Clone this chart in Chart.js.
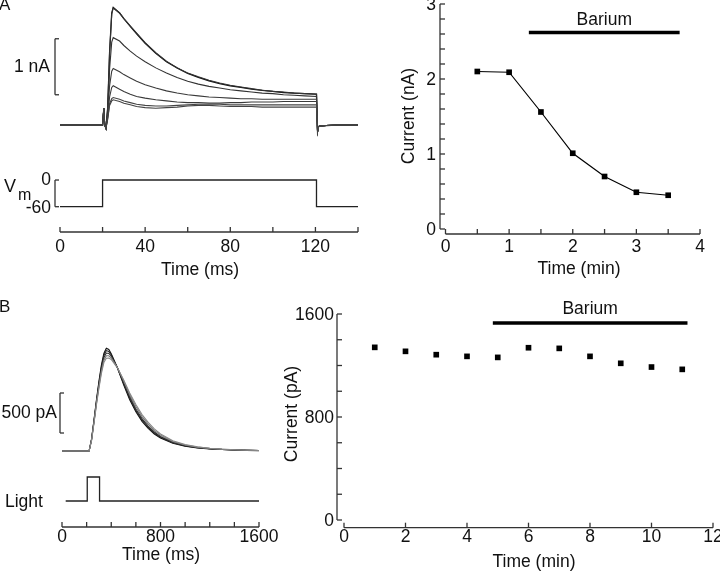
<!DOCTYPE html>
<html>
<head>
<meta charset="utf-8">
<script src="https://cdn.jsdelivr.net/npm/chart.js@4.4.1/dist/chart.umd.min.js"></script>
<style>
  html, body { margin: 0; padding: 0; background: #fff; }
  #wrap { position: relative; width: 720px; height: 572px; }
  #wrap canvas { position: absolute; left: 0; top: 0; }
</style>
</head>
<body>
<div id="wrap">
  <canvas id="aTrace" width="720" height="572"></canvas>
  <canvas id="aVolt" width="720" height="572"></canvas>
  <canvas id="aTime" width="720" height="572"></canvas>
  <canvas id="bTrace" width="720" height="572"></canvas>
  <canvas id="bLight" width="720" height="572"></canvas>
  <canvas id="bTime" width="720" height="572"></canvas>
</div>
<script>
// ---- panel A, left: current traces (nA) vs time (ms)
const tA = [0, 20, 20.6, 21, 21.6, 22.4, 23.3, 24.3, 25, 28, 30, 33, 36, 40, 45, 50, 55, 60, 65, 70, 75, 80, 85, 90, 95, 100, 105, 110, 115, 120.5, 121, 121.5, 122, 125, 130, 140];
const iA1 = [0, 0, 0.3, 0, -0.06, 0.3, 1.3, 2.0, 2.1, 2.0, 1.9, 1.76, 1.63, 1.46, 1.28, 1.13, 1.02, 0.92, 0.85, 0.79, 0.74, 0.70, 0.67, 0.64, 0.62, 0.60, 0.58, 0.57, 0.56, 0.55, -0.12, -0.03, -0.02, -0.01, 0, 0];
const iA2 = [0, 0, 0.3, 0, -0.06, 0.3, 1.3, 1.98, 2.09, 2.0, 1.9, 1.77, 1.64, 1.47, 1.29, 1.14, 1.02, 0.93, 0.86, 0.80, 0.75, 0.71, 0.68, 0.65, 0.62, 0.60, 0.59, 0.57, 0.56, 0.55, -0.12, -0.03, -0.02, -0.01, 0, 0];
const iA3 = [0, 0, 0.3, 0, -0.06, 0.25, 1.0, 1.48, 1.56, 1.5, 1.42, 1.32, 1.23, 1.13, 1.02, 0.93, 0.85, 0.78, 0.73, 0.69, 0.66, 0.63, 0.61, 0.59, 0.57, 0.56, 0.54, 0.53, 0.52, 0.51, -0.12, -0.03, -0.02, -0.01, 0, 0];
const iA4 = [0, 0, 0.3, 0, -0.06, 0.2, 0.7, 0.96, 1.01, 0.95, 0.9, 0.84, 0.78, 0.72, 0.66, 0.61, 0.57, 0.54, 0.52, 0.5, 0.49, 0.48, 0.47, 0.47, 0.46, 0.46, 0.46, 0.46, 0.46, 0.46, -0.12, -0.03, -0.02, -0.01, 0, 0];
const iA5 = [0, 0, 0.3, 0, -0.06, 0.15, 0.5, 0.67, 0.70, 0.64, 0.6, 0.55, 0.51, 0.48, 0.45, 0.43, 0.41, 0.4, 0.4, 0.39, 0.39, 0.4, 0.4, 0.41, 0.41, 0.41, 0.42, 0.42, 0.42, 0.42, -0.12, -0.03, -0.02, -0.01, 0, 0];
const iA6 = [0, 0, 0.3, 0, -0.06, 0.12, 0.38, 0.47, 0.49, 0.46, 0.43, 0.4, 0.37, 0.35, 0.34, 0.34, 0.35, 0.36, 0.37, 0.37, 0.37, 0.36, 0.36, 0.36, 0.36, 0.36, 0.36, 0.36, 0.36, 0.36, -0.12, -0.03, -0.02, -0.01, 0, 0];
const iA7 = [0, 0, 0.3, 0, -0.06, 0.1, 0.35, 0.43, 0.45, 0.42, 0.39, 0.36, 0.33, 0.31, 0.3, 0.31, 0.32, 0.34, 0.35, 0.35, 0.34, 0.33, 0.33, 0.33, 0.32, 0.32, 0.32, 0.32, 0.32, 0.32, -0.12, -0.03, -0.02, -0.01, 0, 0];
const tVm = [0, 20, 20, 120.5, 120.5, 140];
const vm = [-60, -60, 0, 0, -60, -60];
const ticksAms = [0, 20, 40, 60, 80, 100, 120, 140];
const labelsAms = [0, 40, 80, 120];

// ---- panel A, right: peak current (nA) vs time (min)
const timeA = [0.5, 1, 1.5, 2, 2.5, 3, 3.5];
const peakA = [2.10, 2.09, 1.56, 1.01, 0.70, 0.49, 0.45];
const bariumA = [1.31, 3.68];
const bariumALevel = 2.62;
const ticksAmin = [0, 0.5, 1, 1.5, 2, 2.5, 3, 3.5, 4];
const labelsAmin = [0, 1, 2, 3, 4];
const ticksAnA = [0, 0.2, 0.4, 0.6, 0.8, 1, 1.2, 1.4, 1.6, 1.8, 2, 2.2, 2.4, 2.6, 2.8, 3];
const labelsAnA = [0, 1, 2, 3];

// ---- panel B, left: light responses (pA) vs time (ms)
const tB = [0, 220, 240, 260, 280, 300, 320, 340, 360, 380, 400, 450, 500, 550, 600, 650, 700, 750, 800, 900, 1000, 1100, 1200, 1300, 1400, 1500, 1600];
const iB1 = [0, 0, 150, 390, 640, 870, 1075, 1220, 1285, 1270, 1215, 1040, 830, 640, 490, 370, 282, 212, 162, 96, 60, 38, 26, 18, 12, 8, 5];
const iB2 = [0, 0, 145, 380, 625, 850, 1050, 1195, 1255, 1245, 1200, 1040, 845, 660, 505, 388, 297, 225, 172, 102, 64, 41, 28, 19, 13, 9, 6];
const iB3 = [0, 0, 140, 370, 610, 830, 1025, 1165, 1225, 1220, 1185, 1040, 860, 680, 525, 405, 312, 238, 182, 108, 68, 44, 30, 20, 14, 9, 6];
const iB4 = [0, 0, 135, 360, 595, 805, 995, 1135, 1190, 1190, 1165, 1045, 880, 705, 555, 430, 335, 258, 198, 118, 74, 48, 33, 22, 15, 10, 6];
const iB5 = [0, 0, 130, 350, 580, 785, 970, 1105, 1160, 1162, 1145, 1040, 890, 725, 580, 455, 357, 276, 212, 127, 80, 52, 35, 24, 16, 10, 7];
const tLight = [30, 205, 205, 305, 305, 1600];
const light = [0, 0, 1, 1, 0, 0];
const ticksBms = [0, 200, 400, 600, 800, 1000, 1200, 1400, 1600];
const labelsBms = [0, 800, 1600];

// ---- panel B, right: peak current (pA) vs time (min)
const timeB = [1, 2, 3, 4, 5, 6, 7, 8, 9, 10, 11];
const peakB = [1341, 1310, 1284, 1271, 1263, 1338, 1333, 1271, 1217, 1188, 1170];
const bariumB = [4.84, 11.17];
const bariumBLevel = 1530;
const ticksBmin = [0, 2, 4, 6, 8, 10, 12];
const labelsBmin = [0, 2, 4, 6, 8, 10, 12];
const ticksBpA = [0, 200, 400, 600, 800, 1000, 1200, 1400, 1600];
const labelsBpA = [0, 800, 1600];

const FONT = '"Liberation Sans", Arial, sans-serif';
const INK = '#111';
const AXIS = '#333';

const pts = (xs, ys) => xs.map((x, i) => ({ x: x, y: ys[i] }));
// chart area given in page pixels -> layout padding
const area = (l, r, t, b) => ({ left: l, right: 720 - r, top: t, bottom: 572 - b });

function ln(ctx, x1, y1, x2, y2, w) {
    ctx.save();
    ctx.strokeStyle = AXIS;
    ctx.lineWidth = w || 1.3;
    ctx.beginPath();
    ctx.moveTo(x1, y1);
    ctx.lineTo(x2, y2);
    ctx.stroke();
    ctx.restore();
}

function tx(ctx, s, x, y, align, size, rot) {
    ctx.save();
    ctx.fillStyle = INK;
    ctx.font = (size || 17.5) + 'px ' + FONT;
    ctx.textAlign = align || 'center';
    ctx.textBaseline = 'middle';
    ctx.translate(x, y);
    if (rot) ctx.rotate(rot);
    ctx.fillText(s, 0, 0);
    ctx.restore();
}

function bracket(ctx, x, y1, y2) {
    ln(ctx, x, y1, x, y2);
    ln(ctx, x, y1, x + 4, y1);
    ln(ctx, x, y2, x + 4, y2);
}

// x axis drawn below the plot, ticks pointing up
function xAxis(c, yLine, ticks, labels, labelY, title, titleX, titleY) {
    const ctx = c.ctx, s = c.scales.x;
    ln(ctx, s.getPixelForValue(ticks[0]), yLine, s.getPixelForValue(ticks[ticks.length - 1]), yLine);
    ticks.forEach(v => { const p = s.getPixelForValue(v); ln(ctx, p, yLine, p, yLine - 5); });
    labels.forEach(v => tx(ctx, String(v), s.getPixelForValue(v), labelY));
    tx(ctx, title, titleX, titleY);
}

// y axis left of the plot, ticks pointing right
function yAxis(c, xLine, ticks, labels, labelX) {
    const ctx = c.ctx, s = c.scales.y;
    ln(ctx, xLine, s.getPixelForValue(ticks[0]), xLine, s.getPixelForValue(ticks[ticks.length - 1]));
    ticks.forEach(v => { const p = s.getPixelForValue(v); ln(ctx, xLine, p, xLine + 5, p); });
    labels.forEach(v => tx(ctx, String(v), labelX, s.getPixelForValue(v) + 1, 'right'));
}

function makeChart(id, pad, xr, yr, datasets, deco) {
    return new Chart(document.getElementById(id), {
        type: 'line',
        data: { datasets: datasets },
        options: {
            responsive: false,
            animation: false,
            events: [],
            layout: { padding: pad },
            scales: {
                x: { type: 'linear', display: false, min: xr[0], max: xr[1] },
                y: { type: 'linear', display: false, min: yr[0], max: yr[1] }
            },
            plugins: { legend: { display: false }, tooltip: { enabled: false } },
            elements: { point: { radius: 0 }, line: { tension: 0 } }
        },
        plugins: [{ id: 'deco', afterDraw: deco }]
    });
}

const trace = (xs, ys, color, w) => ({
    data: pts(xs, ys), borderColor: color, borderWidth: w || 1.1, clip: false, pointRadius: 0
});
const bar = (xs, level) => ({
    data: [{ x: xs[0], y: level }, { x: xs[1], y: level }],
    borderColor: '#000', borderWidth: 3.5, borderCapStyle: 'butt', pointRadius: 0
});

// A left, current traces
makeChart('aTrace', area(60, 358, 1.8, 139), [0, 140], [-0.25, 2.2], [
    trace(tA, iA7, '#444'), trace(tA, iA6, '#444'), trace(tA, iA5, '#3a3a3a'),
    trace(tA, iA4, '#3a3a3a'), trace(tA, iA3, '#333'), trace(tA, iA2, '#333'),
    trace(tA, iA1, '#111', 1.3)
], c => {
    const ctx = c.ctx, y = c.scales.y;
    bracket(ctx, 55, y.getPixelForValue(1.54), y.getPixelForValue(0.54));
    tx(ctx, '1 nA', 50, 67, 'right');
    tx(ctx, 'A', -1, 5, 'left', 17);
});

// A left, voltage protocol + time axis
makeChart('aVolt', area(60, 358, 177.8, 211.15), [0, 140], [-70, 5], [
    trace(tVm, vm, '#222', 1.3)
], c => {
    const ctx = c.ctx, y = c.scales.y;
    bracket(ctx, 55, y.getPixelForValue(0), y.getPixelForValue(-60));
    tx(ctx, 'V', 4, 187, 'left', 18);
    tx(ctx, 'm', 18, 196, 'left', 16);
    tx(ctx, '0', 51, y.getPixelForValue(0), 'right');
    tx(ctx, '-60', 51, y.getPixelForValue(-60) + 1, 'right');
    xAxis(c, 232, ticksAms, labelsAms, 247.5, 'Time (ms)', 200, 270);
});

// A right, peak current vs time
makeChart('aTime', area(445.5, 700, 4, 229), [0, 4], [0, 3], [
    bar(bariumA, bariumALevel),
    {
        data: pts(timeA, peakA), borderColor: '#000', borderWidth: 1.2,
        pointStyle: 'rect', pointRadius: 4, pointBackgroundColor: '#000',
        pointBorderWidth: 0, clip: false
    }
], c => {
    const ctx = c.ctx, x = c.scales.x;
    yAxis(c, 440, ticksAnA, labelsAnA, 436);
    xAxis(c, 234, ticksAmin, labelsAmin, 247.5, 'Time (min)', 579, 269.5);
    tx(ctx, 'Barium', (x.getPixelForValue(bariumA[0]) + x.getPixelForValue(bariumA[1])) / 2, 20);
    tx(ctx, 'Current (nA)', 409, 116, 'center', 17.5, -Math.PI / 2);
});

// B left, light responses
makeChart('bTrace', area(62, 259, 339, 459), [0, 1600], [-100, 1400], [
    trace(tB, iB5, '#888'), trace(tB, iB4, '#777'), trace(tB, iB3, '#333'),
    trace(tB, iB2, '#222'), trace(tB, iB1, '#111')
], c => {
    const ctx = c.ctx, y = c.scales.y;
    bracket(ctx, 60, y.getPixelForValue(725), y.getPixelForValue(225));
    tx(ctx, '500 pA', 57, 413, 'right');
    tx(ctx, 'B', -1, 307, 'left', 17);
});

// B left, light stimulus + time axis
makeChart('bLight', area(62, 259, 465, 513), [0, 1600], [-0.5, 1.5], [
    trace(tLight, light, '#222', 1.3)
], c => {
    tx(c.ctx, 'Light', 5, 502, 'left');
    xAxis(c, 527, ticksBms, labelsBms, 537.5, 'Time (ms)', 161, 555);
});

// B right, peak current vs time
makeChart('bTime', area(344, 713, 314, 520), [0, 12], [0, 1600], [
    bar(bariumB, bariumBLevel),
    {
        data: pts(timeB, peakB), showLine: false,
        pointStyle: 'rect', pointRadius: 4, pointBackgroundColor: '#000',
        pointBorderWidth: 0, clip: false
    }
], c => {
    const ctx = c.ctx, x = c.scales.x;
    yAxis(c, 337, ticksBpA, labelsBpA, 334);
    xAxis(c, 527.7, ticksBmin, labelsBmin, 537.5, 'Time (min)', 534, 562);
    tx(ctx, 'Barium', (x.getPixelForValue(bariumB[0]) + x.getPixelForValue(bariumB[1])) / 2, 309);
    tx(ctx, 'Current (pA)', 292, 414, 'center', 17.5, -Math.PI / 2);
});
</script>
</body>
</html>
